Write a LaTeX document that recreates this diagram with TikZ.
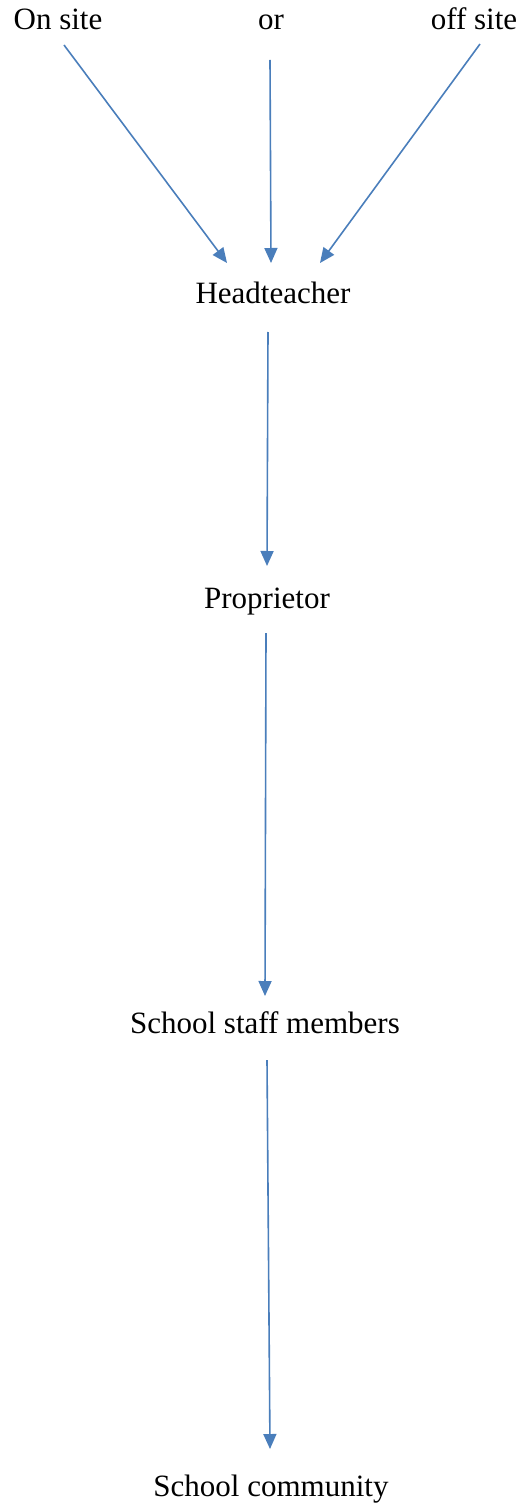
\documentclass[tikz,border=0pt]{standalone}
\usepackage{fontspec}
\setmainfont{Liberation Serif}
\usetikzlibrary{arrows.meta}
\definecolor{arrowblue}{HTML}{4A7EBB}
\begin{document}
\begin{tikzpicture}[x=1pt,y=-1pt,
  lbl/.style={font=\fontsize{31}{36}\selectfont, inner sep=0pt, anchor=base, text=black},
  conn/.style={draw=arrowblue, line width=1.6pt, -{Triangle[length=15pt,width=13pt]}}]
\useasboundingbox (0,0) rectangle (522,1506);
\node[lbl] (onsite) at (58,30) {On site};
\node[lbl] (or) at (271,30) {or};
\node[lbl] (offsite) at (474,30) {off site};
\node[lbl] (head) at (273,303) {Headteacher};
\node[lbl] (prop) at (267,608) {Proprietor};
\node[lbl] (staff) at (265,1033) {School staff members};
\node[lbl] (comm) at (271,1496) {School community};
\coordinate (a1) at (64,45);   \coordinate (b1) at (227,263);
\coordinate (a2) at (270,60);  \coordinate (b2) at (271,263);
\coordinate (a3) at (480,44);  \coordinate (b3) at (320,263);
\coordinate (a4) at (268,332); \coordinate (b4) at (267,566);
\coordinate (a5) at (266,633); \coordinate (b5) at (265,996);
\coordinate (a6) at (267,1060);\coordinate (b6) at (270,1449);
\draw[conn] (a1) -- (b1);
\draw[conn] (a2) -- (b2);
\draw[conn] (a3) -- (b3);
\draw[conn] (a4) -- (b4);
\draw[conn] (a5) -- (b5);
\draw[conn] (a6) -- (b6);
\end{tikzpicture}
\end{document}
